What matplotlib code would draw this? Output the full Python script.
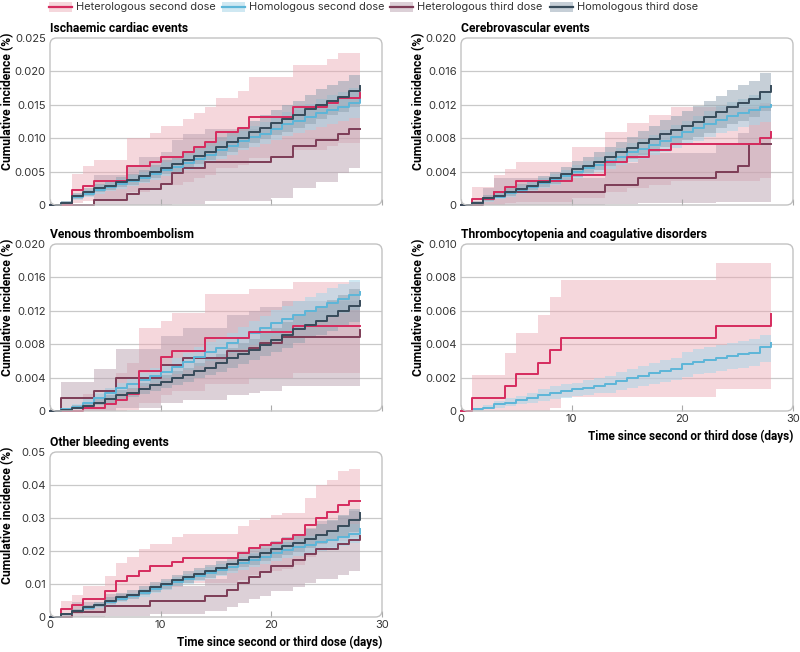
import numpy as np
import matplotlib.pyplot as plt
from matplotlib.patches import FancyBboxPatch, Rectangle
from matplotlib.lines import Line2D

plt.rcParams['font.family'] = ['Roboto', 'DejaVu Sans']
REG = ['Inter', 'DejaVu Sans']

# days since dose; all incidence values below are in units of 0.001 %
days = np.arange(29)

series_names = ['Heterologous second dose', 'Homologous second dose',
                'Heterologous third dose', 'Homologous third dose']
line_colors = ['#d62b5e', '#5db6d8', '#7d3c56', '#374b5a']
band_colors = ['#eba7b2', '#a9d6e8', '#bba3b1', '#8ea1b0']
band_alpha = [0.45, 0.55, 0.5, 0.5]

# ---- Ischaemic cardiac events
card_het2 = [0, 0, 2.2, 2.9, 3.6, 3.6, 3.6, 5.8, 5.8, 6.5, 7.2, 7.2, 7.9, 8.7, 9.4, 10.9, 10.9, 11.6, 13.1, 13.1, 13.1, 13.1, 14.6, 14.6, 14.6, 15.3, 16.0, 16.0, 16.7]
card_het2_lo = [0, 0, 0.3, 0.6, 0.9, 0.9, 0.9, 2.0, 2.0, 2.5, 3.0, 3.0, 3.4, 4.0, 4.5, 5.5, 5.5, 6.0, 7.0, 7.0, 7.0, 7.0, 8.2, 8.2, 8.2, 8.8, 9.3, 9.3, 9.4]
card_het2_hi = [0, 0, 4.7, 5.8, 6.8, 6.8, 6.8, 10.1, 10.1, 10.8, 11.8, 11.8, 12.8, 13.7, 14.7, 16.0, 16.0, 17.0, 19.1, 19.1, 19.1, 19.1, 20.9, 20.9, 20.9, 21.8, 22.7, 22.7, 22.7]
card_hom2 = [0, 0.3, 1.2, 1.7, 2.3, 2.7, 3.1, 3.6, 4.1, 4.7, 5.3, 5.7, 6.3, 6.9, 7.5, 8.2, 8.9, 9.6, 10.2, 10.7, 11.4, 12.1, 12.6, 13.1, 13.7, 14.2, 14.7, 15.2, 15.8]
card_hom2_lo = [0, 0.1, 0.8, 1.2, 1.7, 2.1, 2.4, 2.8, 3.3, 3.8, 4.3, 4.7, 5.2, 5.7, 6.3, 6.9, 7.5, 8.2, 8.7, 9.1, 9.7, 10.3, 10.8, 11.2, 11.7, 12.1, 12.6, 13.0, 13.5]
card_hom2_hi = [0, 0.6, 1.7, 2.3, 3.0, 3.4, 3.9, 4.5, 5.0, 5.7, 6.4, 6.8, 7.5, 8.2, 8.8, 9.6, 10.4, 11.1, 11.8, 12.4, 13.2, 13.9, 14.5, 15.1, 15.8, 16.4, 16.9, 17.5, 18.2]
card_het3 = [0, 0, 0, 0, 0.8, 0.8, 0.8, 1.6, 2.4, 2.4, 3.2, 4.8, 5.6, 5.6, 6.4, 6.4, 6.4, 6.4, 6.4, 6.4, 7.2, 7.2, 8.9, 8.9, 9.7, 9.7, 10.6, 11.4, 11.4]
card_het3_lo = [0, 0, 0, 0, 0, 0, 0, 0, 0, 0, 0, 0.1, 0.2, 0.2, 0.6, 0.6, 0.6, 0.6, 0.6, 0.6, 1.0, 1.0, 2.5, 2.5, 3.5, 3.5, 4.8, 5.5, 5.5]
card_het3_hi = [0, 0, 0, 0, 4.5, 4.5, 4.5, 6.0, 7.2, 7.2, 8.0, 9.8, 10.6, 10.6, 11.4, 11.4, 11.4, 11.4, 11.4, 11.4, 12.2, 12.2, 14.2, 14.2, 15.0, 15.0, 16.0, 17.0, 17.0]
card_hom3 = [0, 0.3, 1.3, 1.9, 2.5, 2.9, 3.4, 3.8, 4.3, 5.0, 5.6, 6.1, 6.7, 7.3, 8.0, 8.7, 9.4, 10.0, 10.9, 11.6, 12.3, 12.9, 13.5, 14.3, 15.0, 15.6, 16.2, 17.0, 17.8]
card_hom3_lo = [0, 0.1, 0.9, 1.4, 1.9, 2.3, 2.7, 3.0, 3.5, 4.1, 4.6, 5.0, 5.6, 6.1, 6.7, 7.3, 7.9, 8.5, 9.3, 9.9, 10.5, 11.0, 11.5, 12.2, 12.9, 13.4, 13.9, 14.6, 15.3]
card_hom3_hi = [0, 0.6, 1.8, 2.5, 3.2, 3.6, 4.2, 4.7, 5.2, 6.0, 6.7, 7.3, 8.0, 8.6, 9.4, 10.2, 11.0, 11.6, 12.6, 13.4, 14.2, 14.9, 15.6, 16.5, 17.3, 17.9, 18.6, 19.5, 20.1]

# ---- Cerebrovascular events
cere_het2 = [0, 0.7, 0.7, 1.5, 2.2, 2.9, 2.9, 2.9, 2.9, 2.9, 3.6, 3.6, 3.6, 5.1, 5.1, 5.8, 5.8, 6.6, 6.6, 7.3, 7.3, 7.3, 7.3, 7.3, 7.3, 7.3, 7.3, 8.0, 8.7]
cere_het2_lo = [0, 0, 0, 0, 0.2, 0.4, 0.4, 0.4, 0.4, 0.4, 0.8, 0.8, 0.8, 1.6, 1.6, 2.0, 2.0, 2.4, 2.4, 2.9, 2.9, 2.9, 2.9, 2.9, 2.9, 2.9, 2.9, 3.2, 3.5]
cere_het2_hi = [0, 2.1, 2.1, 3.6, 4.3, 5.2, 5.2, 5.2, 5.2, 5.2, 6.9, 6.9, 6.9, 8.8, 8.8, 9.8, 9.8, 10.8, 10.8, 11.7, 11.7, 11.7, 11.7, 11.7, 11.7, 11.7, 11.7, 12.2, 12.6]
cere_hom2 = [0, 0.2, 0.7, 1.0, 1.4, 1.8, 2.2, 2.6, 3.0, 3.5, 4.0, 4.4, 4.8, 5.3, 5.8, 6.3, 6.7, 7.2, 7.7, 8.2, 8.7, 9.2, 9.7, 10.2, 10.6, 11.0, 11.4, 11.7, 12.0]
cere_hom2_lo = [0, 0.05, 0.4, 0.7, 1.0, 1.3, 1.7, 2.0, 2.4, 2.8, 3.2, 3.6, 3.9, 4.3, 4.8, 5.2, 5.5, 6.0, 6.4, 6.8, 7.3, 7.7, 8.1, 8.6, 8.9, 9.3, 9.6, 9.9, 10.2]
cere_hom2_hi = [0, 0.4, 1.0, 1.4, 1.8, 2.3, 2.8, 3.2, 3.7, 4.2, 4.8, 5.3, 5.7, 6.3, 6.8, 7.4, 7.9, 8.4, 9.0, 9.6, 10.1, 10.7, 11.2, 11.8, 12.3, 12.7, 13.2, 13.5, 13.8]
cere_het3 = [0, 0, 0.8, 1.5, 1.5, 1.5, 1.5, 1.5, 1.5, 1.5, 1.5, 1.5, 1.5, 2.4, 2.4, 2.4, 3.2, 3.2, 3.2, 3.2, 3.2, 3.2, 3.2, 4.0, 4.0, 4.7, 7.3, 7.3, 7.3]
cere_het3_lo = [0, 0, 0, 0, 0, 0, 0, 0, 0, 0, 0, 0, 0, 0.1, 0.1, 0.1, 0.2, 0.2, 0.2, 0.2, 0.2, 0.2, 0.2, 0.3, 0.3, 0.3, 0.3, 0.3, 0.3]
cere_het3_hi = [0, 0, 2.0, 3.2, 3.2, 3.2, 3.2, 3.2, 3.2, 3.2, 3.2, 3.2, 3.2, 5.0, 5.0, 5.0, 6.2, 6.2, 6.2, 6.2, 6.2, 6.2, 6.2, 7.4, 7.4, 8.6, 11.4, 12.0, 12.0]
cere_hom3 = [0, 0.2, 0.8, 1.1, 1.5, 1.9, 2.3, 2.8, 3.2, 3.7, 4.3, 4.7, 5.2, 5.8, 6.3, 6.8, 7.4, 7.9, 8.5, 9.0, 9.5, 10.0, 10.5, 11.1, 11.7, 12.2, 12.7, 13.5, 14.3]
cere_hom3_lo = [0, 0.05, 0.5, 0.8, 1.1, 1.4, 1.8, 2.2, 2.5, 2.9, 3.4, 3.8, 4.2, 4.7, 5.1, 5.5, 6.0, 6.4, 6.9, 7.4, 7.8, 8.2, 8.6, 9.2, 9.7, 10.1, 10.5, 11.2, 11.9]
cere_hom3_hi = [0, 0.5, 1.2, 1.5, 2.0, 2.5, 2.9, 3.5, 4.0, 4.6, 5.3, 5.7, 6.3, 7.0, 7.6, 8.2, 8.9, 9.5, 10.2, 10.7, 11.3, 11.8, 12.5, 13.1, 13.8, 14.4, 14.9, 15.8, 15.8]

# ---- Venous thromboembolism
vte_het2 = [0, 0, 0, 0.4, 0.4, 0.8, 1.3, 2.0, 4.8, 4.8, 6.5, 7.2, 7.2, 7.2, 8.7, 8.7, 8.7, 8.7, 9.5, 9.5, 9.5, 9.5, 10.2, 10.2, 10.2, 10.2, 10.2, 10.2, 10.2]
vte_het2_lo = [0, 0, 0, 0, 0, 0, 0, 0.1, 1.0, 1.0, 1.9, 2.4, 2.4, 2.4, 3.2, 3.2, 3.2, 3.2, 4.0, 4.0, 4.0, 4.0, 4.6, 4.6, 4.6, 4.6, 4.6, 4.6, 4.6]
vte_het2_hi = [0, 0, 0, 2.0, 2.0, 2.8, 4.5, 5.7, 9.9, 9.9, 10.8, 11.7, 11.7, 11.7, 14.0, 14.0, 14.0, 14.0, 14.6, 14.6, 14.6, 14.6, 15.4, 15.4, 15.4, 15.4, 15.4, 15.4, 15.4]
vte_hom2 = [0, 0.2, 0.5, 1.0, 1.6, 2.1, 2.7, 3.2, 3.7, 4.2, 4.7, 5.3, 5.9, 6.5, 7.1, 7.6, 8.1, 8.7, 9.3, 9.9, 10.5, 11.0, 11.5, 12.0, 12.4, 12.9, 13.4, 13.9, 14.3]
vte_hom2_lo = [0, 0.05, 0.3, 0.7, 1.2, 1.6, 2.1, 2.6, 3.0, 3.4, 3.9, 4.4, 4.9, 5.4, 6.0, 6.4, 6.9, 7.4, 7.9, 8.5, 9.0, 9.5, 9.9, 10.4, 10.8, 11.2, 11.7, 12.1, 12.5]
vte_hom2_hi = [0, 0.4, 0.8, 1.4, 2.1, 2.7, 3.4, 3.9, 4.5, 5.1, 5.6, 6.3, 7.0, 7.7, 8.3, 8.9, 9.4, 10.1, 10.8, 11.4, 12.1, 12.6, 13.2, 13.7, 14.1, 14.7, 15.2, 15.7, 16.2]
vte_het3 = [0, 1.6, 1.6, 1.6, 2.4, 2.4, 4.0, 4.0, 4.0, 4.0, 5.5, 5.5, 6.3, 6.3, 6.3, 6.3, 7.2, 7.2, 7.6, 8.1, 8.1, 8.9, 8.9, 8.9, 8.9, 8.9, 8.9, 8.9, 9.7]
vte_het3_lo = [0, 0, 0, 0, 0, 0, 0.3, 0.3, 0.3, 0.3, 0.9, 0.9, 1.3, 1.3, 1.3, 1.3, 1.9, 1.9, 2.1, 2.4, 2.4, 3.0, 3.0, 3.0, 3.0, 3.0, 3.0, 3.0, 3.6]
vte_het3_hi = [0, 3.5, 3.5, 3.5, 5.0, 5.0, 7.4, 7.4, 7.4, 7.4, 9.0, 9.0, 10.0, 10.0, 10.0, 10.0, 11.5, 11.5, 12.0, 12.5, 12.5, 13.2, 13.2, 13.2, 13.2, 13.2, 13.2, 13.2, 14.0]
vte_hom3 = [0, 0.1, 0.4, 0.6, 1.0, 1.4, 1.9, 2.2, 2.6, 3.1, 3.5, 3.9, 4.3, 4.8, 5.2, 5.7, 6.3, 6.8, 7.3, 7.9, 8.5, 9.1, 9.8, 10.3, 10.8, 11.4, 12.0, 12.6, 13.2]
vte_hom3_lo = [0, 0.02, 0.2, 0.4, 0.7, 1.0, 1.4, 1.7, 2.0, 2.4, 2.8, 3.1, 3.5, 3.9, 4.3, 4.7, 5.2, 5.6, 6.1, 6.6, 7.1, 7.6, 8.2, 8.7, 9.1, 9.6, 10.1, 10.7, 11.2]
vte_hom3_hi = [0, 0.3, 0.7, 0.9, 1.4, 1.9, 2.5, 2.8, 3.3, 3.9, 4.3, 4.8, 5.2, 5.8, 6.2, 6.8, 7.5, 8.1, 8.6, 9.3, 10.0, 10.7, 11.5, 12.0, 12.6, 13.3, 13.9, 14.6, 15.3]

# ---- Thrombocytopenia and coagulative disorders (second dose only)
thr_het2 = [0, 0.76, 0.76, 0.76, 1.47, 2.2, 2.2, 2.9, 3.65, 4.4, 4.4, 4.4, 4.4, 4.4, 4.4, 4.4, 4.4, 4.4, 4.4, 4.4, 4.4, 4.4, 4.4, 5.1, 5.1, 5.1, 5.1, 5.1, 5.8]
thr_het2_lo = [0, 0, 0, 0, 0, 0, 0, 0, 0.16, 0.85, 0.85, 0.85, 0.85, 0.85, 0.85, 0.85, 0.85, 0.85, 0.85, 0.85, 0.85, 0.85, 0.85, 1.3, 1.3, 1.3, 1.3, 1.3, 1.3]
thr_het2_hi = [0, 2.15, 2.15, 2.15, 3.5, 4.65, 4.65, 5.75, 6.85, 7.85, 7.85, 7.85, 7.85, 7.85, 7.85, 7.85, 7.85, 7.85, 7.85, 7.85, 7.85, 7.85, 7.85, 8.85, 8.85, 8.85, 8.85, 8.85, 8.85]
thr_hom2 = [0, 0.1, 0.2, 0.4, 0.5, 0.65, 0.8, 0.95, 1.1, 1.2, 1.3, 1.4, 1.5, 1.6, 1.8, 1.95, 2.1, 2.25, 2.4, 2.5, 2.8, 2.95, 3.05, 3.15, 3.3, 3.4, 3.5, 3.85, 4.05]
thr_hom2_lo = [0, 0.02, 0.1, 0.2, 0.3, 0.4, 0.5, 0.6, 0.7, 0.8, 0.9, 0.95, 1.05, 1.1, 1.25, 1.4, 1.5, 1.6, 1.75, 1.85, 2.05, 2.2, 2.3, 2.4, 2.5, 2.6, 2.7, 2.95, 3.2]
thr_hom2_hi = [0, 0.2, 0.35, 0.6, 0.75, 0.9, 1.1, 1.3, 1.5, 1.6, 1.7, 1.85, 1.95, 2.1, 2.35, 2.5, 2.7, 2.9, 3.05, 3.2, 3.55, 3.7, 3.85, 3.95, 4.1, 4.2, 4.3, 4.55, 4.85]

# ---- Other bleeding events
bld_het2 = [0, 2.3, 3.7, 5.5, 5.5, 8.0, 11.0, 12.5, 14.0, 15.4, 15.4, 16.7, 18.0, 18.0, 18.0, 18.0, 18.0, 19.4, 21.0, 21.8, 22.5, 23.5, 25.0, 27.8, 30.1, 31.7, 33.8, 35.1, 35.1]
bld_het2_lo = [0, 0.3, 0.8, 1.5, 1.5, 2.9, 4.9, 5.9, 7.0, 8.1, 8.1, 9.1, 10.2, 10.2, 10.2, 10.2, 10.2, 11.3, 12.6, 13.2, 13.8, 14.6, 15.9, 18.2, 20.0, 21.3, 23.0, 24.2, 24.2]
bld_het2_hi = [0, 4.7, 6.7, 9.5, 9.5, 12.5, 16.5, 18.3, 20.5, 22.0, 22.0, 24.3, 25.3, 25.3, 25.3, 25.3, 25.3, 27.5, 29.3, 30.0, 31.0, 31.5, 31.5, 36.0, 40.0, 41.5, 44.3, 45.0, 45.0]
bld_hom2 = [0, 0.8, 1.7, 2.7, 3.5, 4.5, 5.5, 6.4, 7.3, 8.4, 9.6, 10.7, 11.6, 12.5, 13.3, 14.2, 15.2, 16.3, 17.3, 18.3, 19.4, 20.3, 21.1, 21.9, 22.6, 23.4, 24.3, 25.3, 26.6]
bld_hom2_lo = [0, 0.5, 1.2, 2.1, 2.8, 3.7, 4.6, 5.4, 6.2, 7.2, 8.3, 9.3, 10.1, 10.9, 11.6, 12.4, 13.3, 14.3, 15.2, 16.1, 17.1, 17.9, 18.6, 19.3, 19.9, 20.6, 21.4, 22.3, 23.4]
bld_hom2_hi = [0, 1.2, 2.2, 3.3, 4.3, 5.3, 6.5, 7.4, 8.4, 9.6, 10.9, 12.1, 13.1, 14.1, 15.0, 16.0, 17.1, 18.3, 19.4, 20.5, 21.7, 22.7, 23.6, 24.5, 25.3, 26.2, 27.2, 28.3, 29.8]
bld_het3 = [0, 0, 1.6, 1.6, 1.6, 3.2, 3.2, 3.2, 3.2, 4.7, 4.7, 4.7, 4.7, 4.7, 6.4, 6.4, 8.2, 10.2, 12.2, 13.7, 15.4, 15.4, 17.2, 19.0, 20.7, 20.7, 22.2, 23.4, 24.4]
bld_het3_lo = [0, 0, 0, 0, 0, 0.2, 0.2, 0.2, 0.2, 0.9, 0.9, 0.9, 0.9, 0.9, 1.8, 1.8, 3.0, 4.2, 5.4, 6.5, 7.8, 7.8, 9.0, 10.2, 11.5, 11.5, 12.8, 13.8, 14.8]
bld_het3_hi = [0, 0, 4.5, 4.5, 4.5, 7.0, 7.0, 7.0, 7.0, 9.3, 9.3, 9.3, 9.3, 9.3, 11.6, 11.6, 14.0, 16.6, 19.0, 20.8, 22.8, 22.8, 24.9, 27.0, 29.0, 29.0, 30.7, 32.0, 33.2]
bld_hom3 = [0, 0.8, 1.8, 2.9, 3.7, 4.9, 6.0, 6.8, 8.0, 9.1, 10.0, 11.1, 12.0, 13.0, 13.8, 14.8, 16.0, 17.2, 18.2, 19.3, 20.5, 21.5, 22.5, 23.7, 25.0, 26.2, 27.5, 29.3, 31.6]
bld_hom3_lo = [0, 0.4, 1.2, 2.2, 2.9, 3.9, 4.9, 5.6, 6.7, 7.7, 8.5, 9.5, 10.3, 11.2, 11.9, 12.8, 13.9, 15.0, 15.9, 16.9, 18.0, 18.9, 19.8, 20.9, 22.0, 23.1, 24.3, 25.9, 28.0]
bld_hom3_hi = [0, 1.3, 2.5, 3.7, 4.6, 6.0, 7.2, 8.1, 9.4, 10.6, 11.6, 12.8, 13.8, 14.9, 15.8, 16.9, 18.2, 19.5, 20.6, 21.8, 23.1, 24.2, 25.3, 26.6, 28.1, 29.4, 30.8, 32.8, 34.5]

titles = ['Ischaemic cardiac events', 'Cerebrovascular events', 'Venous thromboembolism',
          'Thrombocytopenia and coagulative disorders', 'Other bleeding events']
yticks = [[0, 5, 10, 15, 20, 25], [0, 4, 8, 12, 16, 20], [0, 4, 8, 12, 16, 20],
          [0, 2, 4, 6, 8, 10], [0, 10, 20, 30, 40, 50]]
ylabels = [['0', '0.005', '0.010', '0.015', '0.020', '0.025'],
           ['0', '0.004', '0.008', '0.012', '0.016', '0.020'],
           ['0', '0.004', '0.008', '0.012', '0.016', '0.020'],
           ['0', '0.002', '0.004', '0.006', '0.008', '0.010'],
           ['0', '0.01', '0.02', '0.03', '0.04', '0.05']]
xticks = [0, 10, 20, 30]

# series order in each panel: het2, hom2, het3, hom3 (None = not shown)
panel_data = [
    [(card_het2, card_het2_lo, card_het2_hi), (card_hom2, card_hom2_lo, card_hom2_hi),
     (card_het3, card_het3_lo, card_het3_hi), (card_hom3, card_hom3_lo, card_hom3_hi)],
    [(cere_het2, cere_het2_lo, cere_het2_hi), (cere_hom2, cere_hom2_lo, cere_hom2_hi),
     (cere_het3, cere_het3_lo, cere_het3_hi), (cere_hom3, cere_hom3_lo, cere_hom3_hi)],
    [(vte_het2, vte_het2_lo, vte_het2_hi), (vte_hom2, vte_hom2_lo, vte_hom2_hi),
     (vte_het3, vte_het3_lo, vte_het3_hi), (vte_hom3, vte_hom3_lo, vte_hom3_hi)],
    [(thr_het2, thr_het2_lo, thr_het2_hi), (thr_hom2, thr_hom2_lo, thr_hom2_hi), None, None],
    [(bld_het2, bld_het2_lo, bld_het2_hi), (bld_hom2, bld_hom2_lo, bld_hom2_hi),
     (bld_het3, bld_het3_lo, bld_het3_hi), (bld_hom3, bld_hom3_lo, bld_hom3_hi)],
]

# axes boxes in pixels: left, top, width, height
W, H = 800, 652
boxes = [(50, 38, 332, 167), (461, 38, 332, 167), (50, 244, 332, 167),
         (461, 244, 332, 167), (50, 452, 332, 165)]
show_xlabels = [False, False, False, True, True]
# legend handle left edges (pixels)
legend_x = [49, 222, 390, 550]

fig = plt.figure(figsize=(W / 100, H / 100), dpi=100)

band_order = [0, 2, 1, 3]
line_order = [2, 1, 0, 3]

for k in range(5):
    l, t, w, h = boxes[k]
    ax = fig.add_axes([l / W, 1 - (t + h) / H, w / W, h / H])
    ax.set_facecolor('none')
    for s in ax.spines.values():
        s.set_visible(False)
    ax.set_xlim(0, 30)
    ax.set_ylim(yticks[k][0] / 1000, yticks[k][-1] / 1000)

    for yv in yticks[k][1:-1]:
        ax.axhline(yv / 1000, color='#c9c9c9', lw=0.9, zorder=0)

    for i in band_order:
        d = panel_data[k][i]
        if d is None:
            continue
        ax.fill_between(days, np.array(d[1]) / 1000, np.array(d[2]) / 1000, step='post',
                        color=band_colors[i], alpha=band_alpha[i], lw=0, zorder=1)
    for i in line_order:
        d = panel_data[k][i]
        if d is None:
            continue
        ax.step(days, np.array(d[0]) / 1000, where='post', color=line_colors[i],
                lw=1.4, zorder=3, clip_on=False)

    frame = FancyBboxPatch((0, 0), 1, 1, boxstyle='round,pad=0,rounding_size=0.02',
                           transform=ax.transAxes, fc='none', ec='#c2c2c2', lw=1,
                           mutation_aspect=w / h, clip_on=False, zorder=5)
    ax.add_patch(frame)

    ax.set_yticks([v / 1000 for v in yticks[k]])
    ax.set_yticklabels(ylabels[k], family=REG)
    ax.set_xticks(xticks)
    ax.set_xticklabels([str(v) for v in xticks], family=REG)
    ax.tick_params(axis='y', length=0, pad=3, labelsize=8, labelcolor='#333333')
    ax.tick_params(axis='x', direction='in', length=4, width=0.8, color='#aaaaaa',
                   labelsize=8, labelcolor='#333333', pad=2,
                   labelbottom=show_xlabels[k])
    if show_xlabels[k]:
        ax.set_xlabel('Time since second or third dose (days)', loc='right',
                      fontsize=8.5, fontweight='bold', labelpad=4)

    ax.set_title(titles[k], loc='left', fontsize=8.7, fontweight='bold', pad=4)
    ax.text(-42 / w, 1.03, 'Cumulative incidence (%)', rotation=90, va='top', ha='center',
            fontsize=8.7, fontweight='bold', transform=ax.transAxes)

# legend: band swatch with line on top, then label
ly = 1 - 7 / H
for i in range(4):
    x0 = legend_x[i] / W
    fig.add_artist(Rectangle((x0, ly - 4.5 / H), 23 / W, 9 / H, transform=fig.transFigure,
                             facecolor=band_colors[i], alpha=band_alpha[i], lw=0))
    fig.add_artist(Line2D([x0, x0 + 23 / W], [ly, ly], transform=fig.transFigure,
                          color=line_colors[i], lw=1.6))
    fig.text(x0 + 27 / W, ly, series_names[i], va='center', ha='left', fontsize=7.9,
             color='#333333', family=REG)

fig.savefig('out.png', dpi=100)
